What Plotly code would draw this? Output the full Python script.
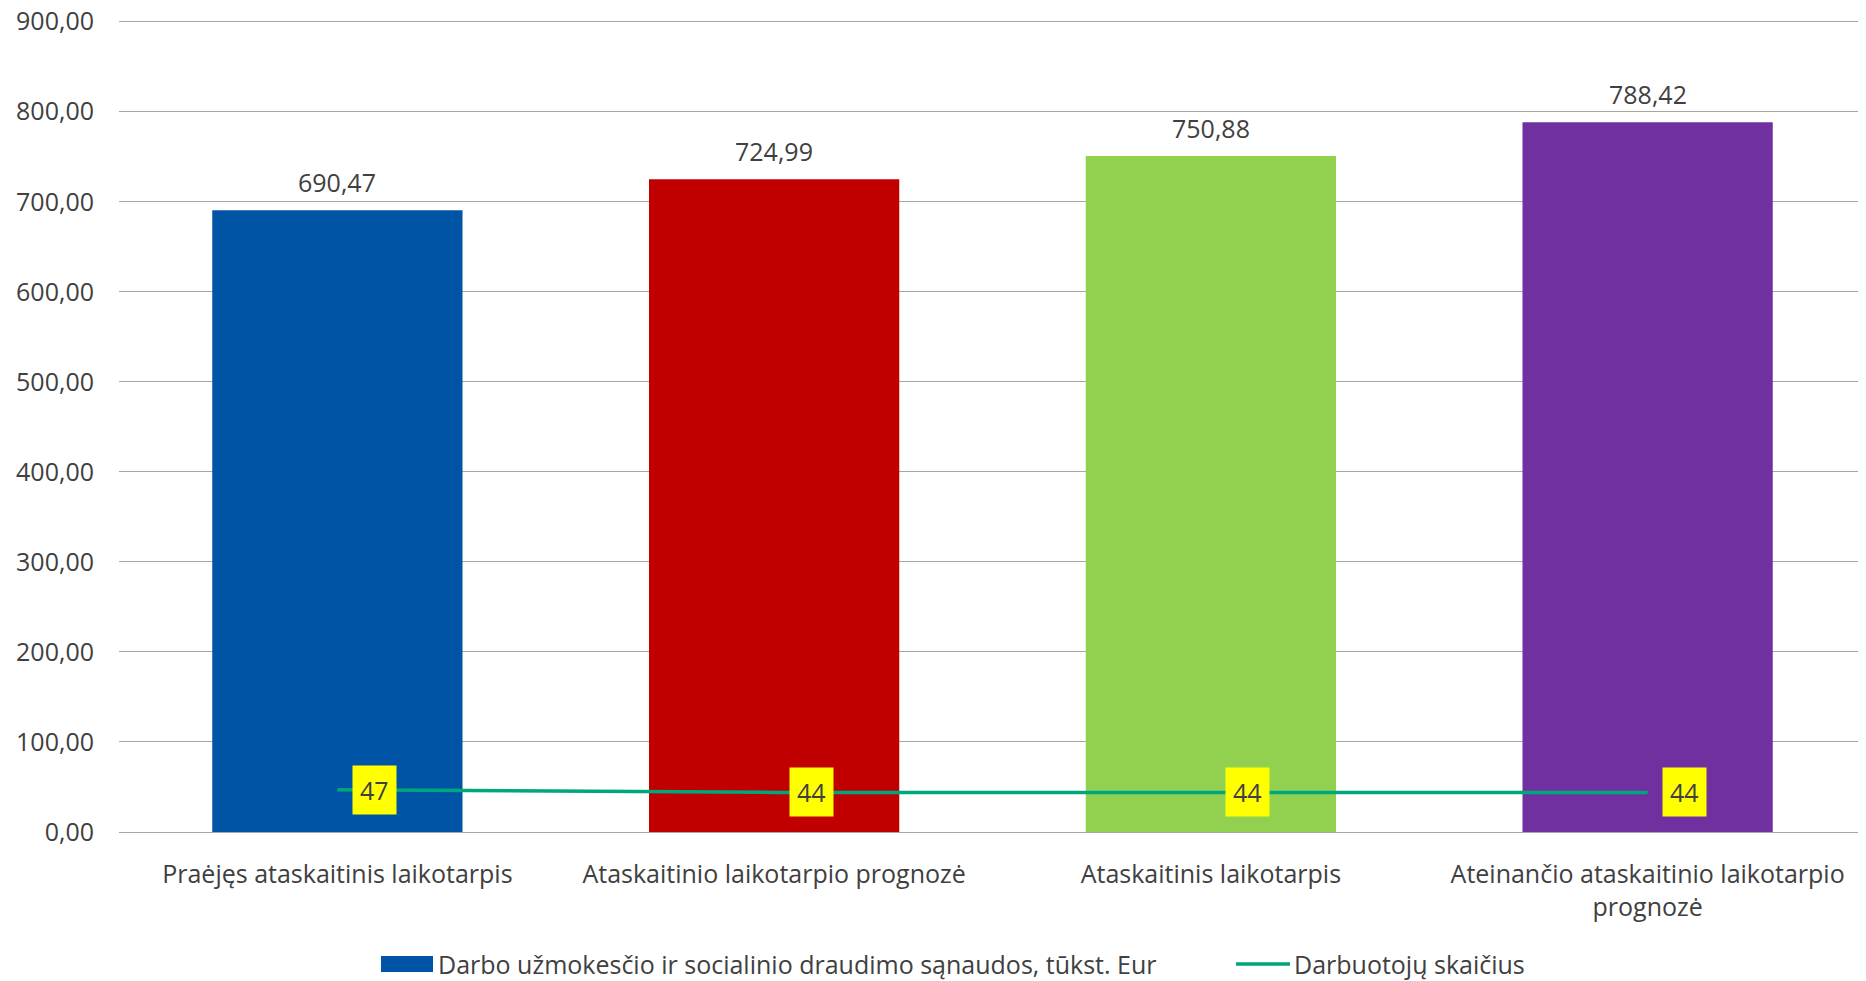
import plotly.graph_objects as go

categories = [
    "Praėjęs ataskaitinis laikotarpis",
    "Ataskaitinio laikotarpio prognozė",
    "Ataskaitinis laikotarpis",
    "Ateinančio ataskaitinio laikotarpio<br>prognozė",
]
cost_values = [690.47, 724.99, 750.88, 788.42]
employee_counts = [47, 44, 44, 44]
bar_colors = ["#0054A6", "#C00000", "#92D050", "#7030A0"]
y_ticks = [0, 100, 200, 300, 400, 500, 600, 700, 800, 900]
bar_series_name = "Darbo užmokesčio ir socialinio draudimo sąnaudos, tūkst. Eur"
line_series_name = "Darbuotojų skaičius"

FONT = "Open Sans"
FS = 25
TXT = "#404040"
OFF = 8  # page body margin
W, H = 1866 - OFF, 981 - OFF
Y_TOP = 903  # a little headroom so the 900 gridline is drawn
PX_PER_UNIT = 810 / 900
ML, MR, MB = 119 - OFF, 0, 981 - 832
MT = 22 - OFF - (Y_TOP - 900) * PX_PER_UNIT
PW, PH = W - ML - MR, H - MT - MB

def px_x(px):
    return (px - OFF - ML) / PW

def px_y(py):
    return (H - MB - (py - OFF)) / PH

fig = go.Figure()
fig.add_trace(go.Bar(
    x=categories, y=cost_values, marker_color=bar_colors, marker_line_width=0,
    name=bar_series_name, showlegend=False,
))
for c, v in zip(categories, cost_values):
    fig.add_annotation(x=c, y=v, text=f"{v:.2f}".replace(".", ","), showarrow=False,
                       yanchor="bottom", yshift=9,
                       font=dict(size=FS, color=TXT, family=FONT))
fig.add_trace(go.Scatter(
    x=categories, y=employee_counts, mode="lines", name=line_series_name,
    line=dict(color="#00A67C", width=3.5), showlegend=False,
))
for c, v in zip(categories, employee_counts):
    fig.add_annotation(x=c, y=v, text=str(v), showarrow=False, xshift=37,
                       bgcolor="#FFFF00", borderpad=7,
                       font=dict(size=FS, color=TXT, family=FONT))

# custom legend
fig.add_shape(type="rect", xref="paper", yref="paper",
              x0=px_x(381), x1=px_x(433), y0=px_y(972), y1=px_y(956),
              fillcolor="#0054A6", line_width=0)
fig.add_annotation(xref="paper", yref="paper", x=px_x(436), y=px_y(964),
                   xanchor="left", yanchor="middle", showarrow=False,
                   text=bar_series_name, font=dict(size=FS, color=TXT, family=FONT))
fig.add_shape(type="line", xref="paper", yref="paper",
              x0=px_x(1236), x1=px_x(1290), y0=px_y(964), y1=px_y(964),
              line=dict(color="#00A67C", width=3.5))
fig.add_annotation(xref="paper", yref="paper", x=px_x(1292), y=px_y(964),
                   xanchor="left", yanchor="middle", showarrow=False,
                   text=line_series_name, font=dict(size=FS, color=TXT, family=FONT))

fig.update_layout(
    width=W, height=H, margin=dict(l=ML, r=MR, t=MT, b=MB, pad=0),
    plot_bgcolor="white", paper_bgcolor="white",
    separators=", ", bargap=0.427,
    font=dict(family=FONT, size=FS, color=TXT),
    showlegend=False,
)
fig.update_yaxes(range=[0, Y_TOP], tickvals=y_ticks, tickformat=".2f",
                 showgrid=True, gridcolor="#A6A6A6", gridwidth=1.3,
                 zeroline=False, showline=False, ticklabelstandoff=24,
                 ticklabeloverflow="allow", automargin=False,
                 tickfont=dict(size=FS, color=TXT, family=FONT))
fig.update_xaxes(showline=True, linecolor="#A6A6A6", linewidth=1.3,
                 automargin=False,
                 tickfont=dict(size=FS, color=TXT, family=FONT), ticks="",
                 ticklabelstandoff=20)

fig.write_html("out.html")
